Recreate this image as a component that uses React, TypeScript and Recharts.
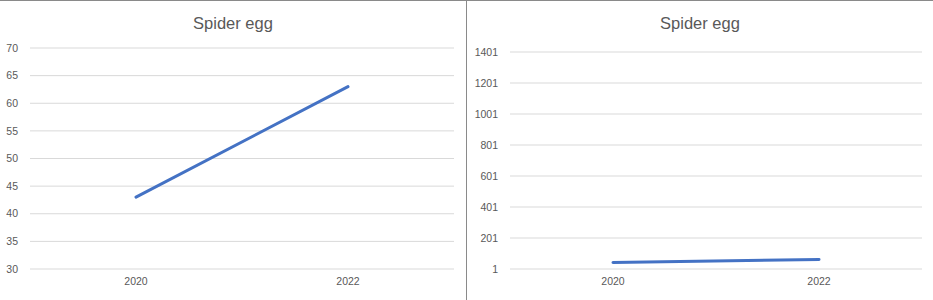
import React from 'react';
import { LineChart, Line, XAxis, YAxis, CartesianGrid } from 'recharts';

const years = ['2020', '2022'];
const spiderEgg = [43, 63];
const leftTicks = [30, 35, 40, 45, 50, 55, 60, 65, 70];
const rightTicks = [1, 201, 401, 601, 801, 1001, 1201, 1401];
const title = 'Spider egg';

const data = years.map((y, i) => ({ year: y, value: spiderEgg[i] }));

const FONT = '"Liberation Sans", Arial, sans-serif';
const TEXT = '#595959';
const GRID = '#d9d9d9';
const LINE = '#4472C4';

type PanelProps = {
  width: number;
  ticks: number[];
  domain: [number, number];
  top: number;
  left: number;
  right: number;
  pad: number;
};

function Panel({ width, ticks, domain, top, left, right, pad }: PanelProps) {
  return (
    <div style={{ position: 'relative', width, height: 300 }}>
      <div
        style={{
          position: 'absolute',
          top: 13,
          left: 0,
          width,
          textAlign: 'center',
          fontFamily: FONT,
          fontSize: 16.5,
          color: TEXT,
          lineHeight: '20px',
        }}
      >
        {title}
      </div>
      <LineChart
        width={width}
        height={300}
        data={data}
        margin={{ top, right, bottom: 0, left: 0 }}
      >
        <CartesianGrid vertical={false} stroke={GRID} strokeWidth={1} />
        <XAxis
          dataKey="year"
          axisLine={false}
          tickLine={false}
          tickSize={0}
          tickMargin={9}
          height={31}
          padding={{ left: pad, right: pad }}
          tick={{ fill: TEXT, fontSize: 10.5, fontFamily: FONT }}
        />
        <YAxis
          type="number"
          domain={domain}
          ticks={ticks}
          interval={0}
          width={left}
          axisLine={false}
          tickLine={false}
          tickSize={0}
          tickMargin={12}
          tick={{ fill: TEXT, fontSize: 10.5, fontFamily: FONT }}
        />
        <Line
          dataKey="value"
          stroke={LINE}
          strokeWidth={3}
          strokeLinecap="round"
          dot={false}
          activeDot={false}
          isAnimationActive={false}
        />
      </LineChart>
    </div>
  );
}

export default function App() {
  return (
    <div
      style={{
        position: 'absolute',
        top: 0,
        left: 0,
        width: 933,
        height: 300,
        background: '#fff',
        display: 'flex',
        borderTop: '1px solid #8a8a8a',
        boxSizing: 'border-box',
      }}
    >
      <div style={{ width: 466, height: 300, marginTop: -1 }}>
        <Panel width={466} ticks={leftTicks} domain={[30, 70]} top={48} left={30} right={12} pad={106} />
      </div>
      <div style={{ width: 1, height: 300, background: '#8a8a8a', marginTop: -1 }} />
      <div style={{ width: 466, height: 300, marginTop: -1 }}>
        <Panel width={466} ticks={rightTicks} domain={[1, 1401]} top={52} left={43} right={11} pad={103} />
      </div>
    </div>
  );
}
